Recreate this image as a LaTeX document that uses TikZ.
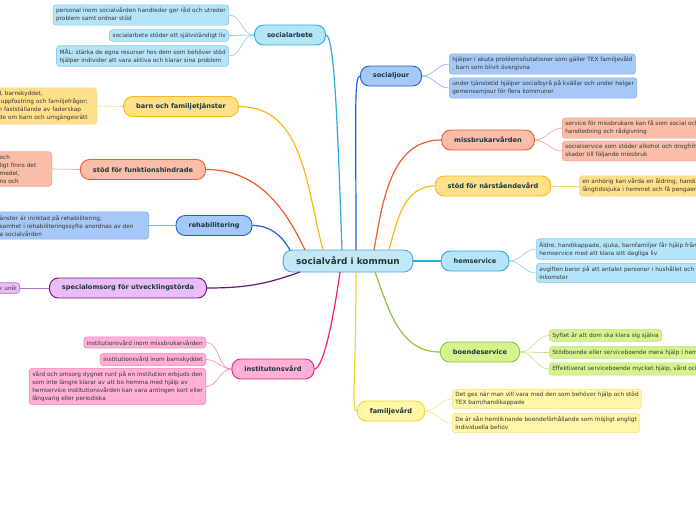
\documentclass[tikz,border=0pt]{standalone}
\usepackage{fontspec}
\setmainfont{DejaVu Sans}
\usepackage{tikz}
\definecolor{ink}{RGB}{25,55,60}
\definecolor{leafink}{RGB}{55,55,55}
\definecolor{hubline}{RGB}{75,166,220}
\definecolor{hubfill}{RGB}{194,232,248}
\definecolor{cyanline}{RGB}{41,171,226}
\definecolor{cyanfill}{RGB}{181,227,248}
\definecolor{cyantwig}{RGB}{130,205,242}
\definecolor{blueline}{RGB}{30,95,210}
\definecolor{bluefill}{RGB}{166,200,246}
\definecolor{bluetwig}{RGB}{130,172,238}
\definecolor{redline}{RGB}{240,90,40}
\definecolor{redfill}{RGB}{249,189,168}
\definecolor{redtwig}{RGB}{246,160,135}
\definecolor{ambline}{RGB}{250,184,20}
\definecolor{ambfill}{RGB}{254,223,138}
\definecolor{ambtwig}{RGB}{252,210,120}
\definecolor{limeline}{RGB}{140,198,62}
\definecolor{limefill}{RGB}{214,242,140}
\definecolor{limetwig}{RGB}{190,225,130}
\definecolor{lemonline}{RGB}{236,216,50}
\definecolor{lemonfill}{RGB}{255,246,168}
\definecolor{lemontwig}{RGB}{242,228,130}
\definecolor{pinkline}{RGB}{236,30,121}
\definecolor{pinkfill}{RGB}{254,176,213}
\definecolor{pinktwig}{RGB}{245,130,185}
\definecolor{plumline}{RGB}{91,26,122}
\definecolor{plumfill}{RGB}{234,188,248}
\definecolor{plumtwig}{RGB}{170,115,195}
\tikzset{
  hub/.style={draw=hubline, fill=hubfill, line width=0.9pt, rounded corners=9pt,
    minimum height=22pt, inner xsep=13pt, text=ink, font=\fontsize{8.9}{10}\selectfont\bfseries},
  topic/.style={draw=#1line, fill=#1fill, line width=0.9pt, rounded corners=9pt,
    minimum height=20pt, inner xsep=12.5pt, text=ink, font=\fontsize{6.6}{8}\selectfont\bfseries},
  leaf/.style={draw=#1twig, fill=#1fill, line width=0.6pt, rounded corners=3pt, align=left,
    inner sep=3pt, text=leafink, font=\fontsize{5.8}{8}\selectfont},
  branch/.style={draw=#1line, line width=1.2pt},
  twig/.style={draw=#1twig, line width=0.6pt}
}

\begin{document}
\begin{tikzpicture}[x=1pt,y=1pt]
  \useasboundingbox (0,0) rectangle (696,-520);
  \clip (0,0) rectangle (696,-520);
  \node[hub] (kommun) at (348,-261) {socialvård i kommun};
  % huvudgrenar
  \node[topic=cyan] (socarb) at (290,-35) {socialarbete};
  \node[topic=blue] (socjour) at (391,-76) {socialjour};
  \node[topic=red] (missbruk) at (488,-140) {missbrukarvården};
  \node[topic=amb] (narst) at (493,-186) {stöd för närståendevård};
  \node[topic=cyan] (hemserv) at (475,-261) {hemservice};
  \node[topic=lime] (boende) at (480,-352) {boendeservice};
  \node[topic=lemon] (famvard) at (391,-411) {familjevård};
  \node[topic=pink] (instvard) at (273,-369) {institutonsvård};
  \node[topic=plum] (specom) at (128,-288) {specialomsorg för utvecklingstörda};
  \node[topic=blue] (rehab) at (214,-225.5) {rehabilitering};
  \node[topic=red] (funk) at (143,-169.5) {stöd för funktionshindrade};
  \node[topic=amb] (barnfam) at (181,-106.5) {barn och familjetjänster};
  % blad
  \node[leaf=cyan, anchor=east] (socarb1) at (229,-15)
    {personal inom socialvården handleder ger råd och utreder\\problem samt ordnar stöd};
  \node[leaf=cyan, anchor=east] (socarb2) at (229,-35.5) {socialarbete stöder ett självständigt liv};
  \node[leaf=cyan, anchor=east] (socarb3) at (229,-56)
    {MÅL: stärka de egna resurser hos dem som behöver stöd\\hjälper individer att vara aktiva och klarar sina problem};
  \node[leaf=blue, anchor=west] (socjour1) at (449,-64)
    {hjälper i akuta problemsitutationer som gäller TEX familjevåld\\, barn som blivit övergivna};
  \node[leaf=blue, anchor=west] (socjour2) at (449,-88)
    {under tjänstetid hjälper socialbyrå på kvällar och under helger\\gemensamjour för flera kommuner};
  \node[leaf=red, anchor=west, text width=240pt] (missbruk1) at (562,-128)
    {service för missbrukare kan få som social och terapeutiskt\\handledning och rådgivning};
  \node[leaf=red, anchor=west, text width=240pt] (missbruk2) at (562,-151)
    {socialservice som stöder alkohol och drogfrihet\\skador till följande missbruk};
  \node[leaf=amb, anchor=west, text width=240pt] (narst1) at (579,-186)
    {en anhörig kan vårda en åldring, handikappad\\långtidssjuka i hemmet och få pengaersättning};
  \node[leaf=cyan, anchor=west, text width=240pt] (hemserv1) at (536,-249)
    {Äldre, handikappade, sjuka, barnfamiljer får hjälp från\\hemservice med att klara sitt dagliga liv};
  \node[leaf=cyan, anchor=west, text width=240pt] (hemserv2) at (536,-273)
    {avgiften beror på att antalet personer i hushållet och deras\\inkomster};
  \node[leaf=lime, anchor=west] (boende1) at (549,-335.5) {Syftet är att dom ska klara sig själva};
  \node[leaf=lime, anchor=west, text width=240pt] (boende2) at (549,-352.5)
    {Stödboende eller serviceboende mera hjälp i hemmet};
  \node[leaf=lime, anchor=west, text width=240pt] (boende3) at (549,-369)
    {Effektiverat serviceboende mycket hjälp, vård och omsorg};
  \node[leaf=lemon, anchor=west] (famvard1) at (452,-399)
    {Det ges när man vill vara med den som behöver hjälp och stöd\\TEX barn/handikappade};
  \node[leaf=lemon, anchor=west] (famvard2) at (452,-423)
    {De är sån hemliknande boendeförhållande som möjligt engligt\\individuella behov};
  \node[leaf=pink, anchor=east] (instvard1) at (206,-342.5) {institutionsvård inom missbrukarvården};
  \node[leaf=pink, anchor=east] (instvard2) at (206,-359.5) {institutionsvård inom barnskyddet};
  \node[leaf=pink, anchor=east] (instvard3) at (206,-386.5)
    {vård och omsorg dygnet runt på en institution erbjuds den\\som inte längre klarar av att bo hemma med hjälp av\\hemservice institutionsvården kan vara antingen kort eller\\långvarig eller periodiska};
  \node[leaf=plum, anchor=east] (specom1) at (20,-288) {k unik};
  \node[leaf=blue, anchor=east, text width=146pt] (rehab1) at (149,-225.5)
    {änster är inriktad på rehabilitering,\\samhet i rehabiliteringssyfte anordnas av den\\a socialvården};
  \node[leaf=red, anchor=east, text width=49pt] (funk1) at (52,-169)
    {och\\ligt finns det\\medel,\\ns och};
  \node[leaf=amb, anchor=east, text width=102pt] (barnfam1) at (97,-106)
    {ård, barnskyddet,\\g i uppfostring och familjefrågor;\\ och fastställande av faderskap\\ande om barn och umgängesrätt};
  % utgångar på mittnoden
  \coordinate (k1) at (342,-250);
  \coordinate (k2) at (356,-250);
  \coordinate (k3) at (374,-250);
  \coordinate (k4) at (389,-250);
  \coordinate (k6) at (375,-272);
  \coordinate (k7) at (356,-272);
  \coordinate (k8) at (340,-272);
  \coordinate (k9) at (300,-272);
  \coordinate (k10) at (290,-250);
  \coordinate (k11) at (305,-250);
  \coordinate (k12) at (323,-250);
  \draw[branch=cyan] (k1) to[out=92,in=0,out distance=140pt,in distance=8pt] (socarb.east);
  \draw[branch=blue] (k2) to[out=90,in=180,out distance=140pt,in distance=6pt] (socjour.west);
  \draw[branch=red] (k3) to[out=80,in=180] (missbruk.west);
  \draw[branch=amb] (k4) to[out=75,in=180] (narst.west);
  \draw[branch=cyan] (kommun.east) -- (hemserv.west);
  \draw[branch=lime] (k6) to[out=-70,in=180] (boende.west);
  \draw[branch=lemon] (k7) to[out=-90,in=180,out distance=110pt,in distance=6pt] (famvard.west);
  \draw[branch=pink] (k8) to[out=-98,in=0,out distance=70pt,in distance=6pt] (instvard.east);
  \draw[branch=plum] (k9) to[out=200,in=0] (specom.east);
  \draw[branch=blue] (k10) to[out=120,in=0] (rehab.east);
  \draw[branch=red] (k11) to[out=115,in=0] (funk.east);
  \draw[branch=amb] (k12) to[out=105,in=0] (barnfam.east);
  % kvistar
  \draw[twig=cyan] (socarb.west) to[out=180,in=0] (socarb1.east);
  \draw[twig=cyan] (socarb.west) to[out=180,in=0] (socarb2.east);
  \draw[twig=cyan] (socarb.west) to[out=180,in=0] (socarb3.east);
  \draw[twig=blue] (socjour.east) to[out=0,in=180] (socjour1.west);
  \draw[twig=blue] (socjour.east) to[out=0,in=180] (socjour2.west);
  \draw[twig=red] (missbruk.east) to[out=0,in=180] (missbruk1.west);
  \draw[twig=red] (missbruk.east) to[out=0,in=180] (missbruk2.west);
  \draw[twig=amb] (narst.east) -- (narst1.west);
  \draw[twig=cyan] (hemserv.east) to[out=0,in=180] (hemserv1.west);
  \draw[twig=cyan] (hemserv.east) to[out=0,in=180] (hemserv2.west);
  \draw[twig=lime] (boende.east) to[out=0,in=180] (boende1.west);
  \draw[twig=lime] (boende.east) to[out=0,in=180] (boende2.west);
  \draw[twig=lime] (boende.east) to[out=0,in=180] (boende3.west);
  \draw[twig=lemon] (famvard.east) to[out=0,in=180] (famvard1.west);
  \draw[twig=lemon] (famvard.east) to[out=0,in=180] (famvard2.west);
  \draw[twig=pink] (instvard.west) to[out=180,in=0] (instvard1.east);
  \draw[twig=pink] (instvard.west) to[out=180,in=0] (instvard2.east);
  \draw[twig=pink] (instvard.west) to[out=180,in=0] (instvard3.east);
  \draw[twig=plum] (specom.west) -- (specom1.east);
  \draw[twig=blue] (rehab.west) -- (rehab1.east);
  \draw[twig=red] (funk.west) -- (funk1.east);
  \draw[twig=amb] (barnfam.west) -- (barnfam1.east);
\end{tikzpicture}
\end{document}
